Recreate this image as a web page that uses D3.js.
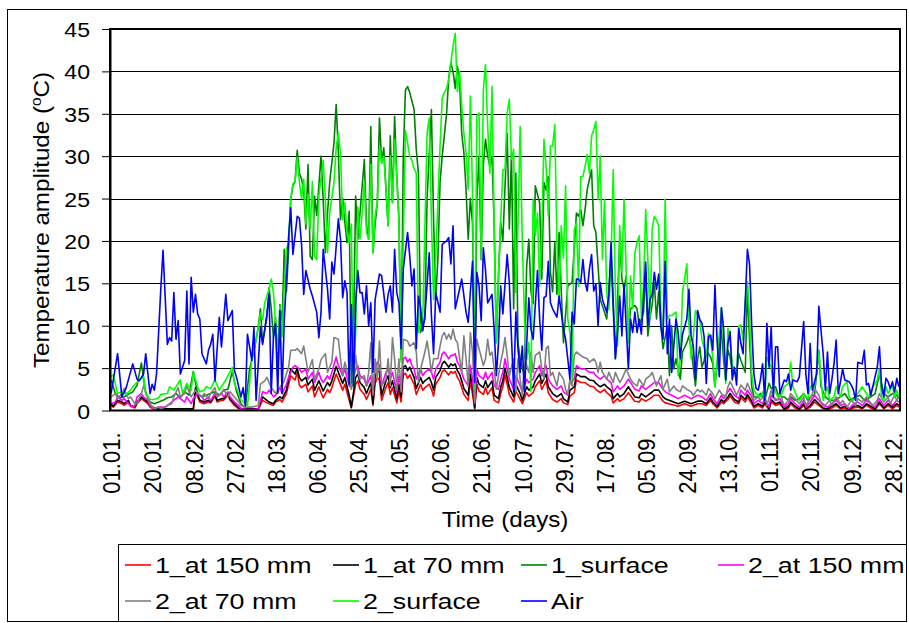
<!DOCTYPE html>
<html>
<head>
<meta charset="utf-8">
<script src="https://cdn.jsdelivr.net/npm/d3@7"></script>
<style>
body { margin: 0; background: #fff; }
text { font-family: "Liberation Sans", Arial, sans-serif; fill: #000; }
</style>
</head>
<body>
<svg id="chart" width="909" height="623"></svg>
<script>
// day-of-year (0 = 01.01.) and amplitude readings, one list of [day, value] per series
var at150_1 = [[0,0.6],[1,0.4],[3,1],[5,0.8],[6,0.6],[8,1],[9,0.5],[11,0.3],[12,0.8],[14,1.4],[15,1.2],[17,0.8],[18,0.4],[20,0.1],[25,0.1],[30,0.1],[35,0.2],[38,0.1],[39,2.2],[41,1],[43,0.8],[45,1],[46,0.9],[48,1.7],[49,1],[51,1.2],[52,1.2],[54,1.8],[55,1.2],[57,0.6],[59,0.2],[61,0.1],[68,0.1],[70,1.2],[72,0.9],[73,0.8],[75,0.6],[76,1],[78,1.3],[79,1],[81,2],[83,4.1],[85,3.6],[86,4.5],[87,3],[88,2.7],[90,3.1],
  [91,2.2],[93,2.9],[94,1.6],[96,2.8],[97,2.1],[98,1.5],[100,2.5],[101,2.1],[102,2.7],[104,4.3],[105,3.7],[107,2.4],[108,3.1],[110,1.2],[111,0.3],[113,3.1],[114,3.5],[115,2.5],[117,1.9],[118,1.3],[120,2.5],[121,0.6],[122,3.2],[123,3.9],[124,3.6],[125,1.2],[127,2.7],[128,3.3],[129,1.9],[130,2.7],[132,0.9],[133,2.3],[134,1],[135,4.2],[136,4.4],[137,3.8],[138,4.2],[139,3.6],[140,3.1],[141,1.9],[143,3.1],[144,2.4],[145,2.7],[147,3.1],[148,2.5],[149,1.7],[150,3.1],[152,3.9],[153,4.6],[154,4.8],[156,4.2],[157,4.6],[158,4.4],[159,4.6],[160,3.9],[161,3.5],[162,2.7],[163,1.9],[165,1.2],[166,3.5],[167,1.9],[168,0.2],[169,3.1],[170,2.3],[172,1.9],[173,2.7],[174,1.9],[176,2.7],[177,1.2],[179,0.9],[180,2],
  [181,2.8],[182,4.2],[183,3.1],[184,1.9],[186,1],[187,2.3],[189,1.3],[190,0.8],[192,2.1],[193,1.7],[195,2.1],[196,2.8],[198,3.5],[199,2.5],[201,3.5],[202,2.1],[204,1.3],[206,1],[208,1.4],[209,0.9],[211,0.7],[212,1.7],[214,2.1],[215,3.6],[217,3.3],[219,3.3],[221,2.9],[223,2.8],[224,2.5],[226,2.1],[228,2.5],[229,2.1],[231,1.7],[232,0.9],[234,1.4],[235,1.1],[237,1.4],[239,2.1],[241,1.4],[242,1.1],[244,1],[245,1.4],[247,1.1],[249,1.4],[251,1.8],[253,1.8],[255,1.1],[256,0.9],[259,0.7],[262,0.5],[265,0.8],[268,0.5],[271,0.8],
  [273,0.8],[275,0.6],[277,1.2],[278,0.8],[280,0.3],[282,1],[283,0.8],[285,1.3],[286,1.7],[288,1],[290,0.8],[291,1.5],[293,1],[294,1.6],[296,0.8],[297,0.3],[299,0.6],[301,0.3],[302,0.8],[304,0.1],[305,1],[307,0.6],[309,0.8],[311,0.1],[313,0.3],[314,0.8],[316,0.3],[318,0.1],[320,0.6],[321,0.1],[323,0.4],[325,1],[327,0.6],[329,0.2],[331,0.1],[333,0.3],[335,0.6],[337,0.2],[339,0.3],[341,0.1],[343,0.3],[345,0.4],[347,0.2],[349,0.6],[351,0.3],[353,0.1],[355,0.8],[357,0.2],[359,0.6],[361,0.2],[363,0.6],[364,0.4]];

var at70_1 = [[0,0.8],[1,0.5],[3,1.2],[5,1],[6,0.8],[8,1.2],[9,0.6],[11,0.4],[12,1],[14,1.6],[15,1.4],[17,1],[18,0.6],[20,0.3],[22,0.2],[25,0.2],[30,0.2],[35,0.2],[38,0.2],[39,2.7],[41,1.2],[43,1],[45,1.2],[46,1],[48,2],[49,1.2],[51,1.4],[52,1.4],[54,2],[55,1.4],[57,0.8],[59,0.3],[61,0.2],[65,0.2],[68,0.2],[70,1.6],[72,1.2],[73,1],[75,0.8],[76,1.2],[78,1.6],[79,1.4],[81,2.4],[83,4.9],[85,4.3],[86,5],[87,3.9],[88,3.5],[90,3.9],
  [91,3],[93,3.7],[94,2.4],[96,3.5],[97,2.9],[98,2.3],[100,3.3],[101,2.9],[102,3.5],[104,5.2],[105,4.5],[107,3.2],[108,3.9],[110,1.8],[111,0.4],[113,3.9],[114,4.3],[115,3.3],[117,2.7],[118,2],[120,3.3],[121,0.8],[122,4],[123,4.7],[124,4.5],[125,1.8],[127,3.5],[128,4.1],[129,2.7],[130,3.5],[132,1.4],[133,3.1],[134,1.6],[135,5.1],[136,5.3],[137,4.7],[138,5.1],[139,4.5],[140,3.9],[141,2.6],[143,3.9],[144,3.2],[145,3.5],[147,3.9],[148,3.3],[149,2.4],[150,3.9],[152,4.7],[153,5.5],[154,5.8],[156,5.1],[157,5.5],[158,5.3],[159,5.5],[160,4.7],[161,4.3],[162,3.5],[163,2.6],[165,1.8],[166,4.3],[167,2.7],[168,0.3],[169,3.9],[170,3.1],[172,2.7],[173,3.5],[174,2.7],[176,3.5],[177,1.8],[179,1.4],[180,2.7],
  [181,3.5],[182,5],[183,3.9],[184,2.7],[186,1.6],[187,3.1],[189,2],[190,1.2],[192,2.8],[193,2.4],[195,2.8],[196,3.5],[198,4.3],[199,3.2],[201,4.3],[202,2.8],[204,2],[206,1.6],[208,2],[209,1.4],[211,1],[212,2.4],[214,2.8],[215,4.3],[217,4],[219,4],[221,3.6],[223,3.5],[224,3.2],[226,2.8],[228,3.1],[229,2.8],[231,2.4],[232,1.4],[234,2],[235,1.6],[237,2],[239,2.8],[241,2],[242,1.6],[244,1.5],[245,2],[247,1.6],[249,2],[251,2.4],[253,2.4],[255,1.6],[256,1.4],[259,1.1],[262,0.8],[265,1.1],[268,0.8],[271,1.1],
  [273,1.1],[275,0.8],[277,1.5],[278,1],[280,0.5],[282,1.3],[283,1],[285,1.6],[286,2],[288,1.3],[290,1],[291,1.8],[293,1.3],[294,1.9],[296,1.1],[297,0.5],[299,0.8],[301,0.5],[302,1],[304,0.2],[305,1.3],[307,0.8],[309,1],[311,0.2],[313,0.5],[314,1],[316,0.5],[318,0.2],[320,0.8],[321,0.2],[323,0.6],[325,1.3],[327,0.8],[329,0.3],[331,0.2],[333,0.5],[335,0.8],[337,0.3],[339,0.5],[341,0.1],[343,0.5],[345,0.6],[347,0.3],[349,0.8],[351,0.5],[353,0.2],[355,1],[357,0.3],[359,0.8],[361,0.4],[363,0.8],[364,0.6]];

var surface_1 = [[0,3.6],[2,2],[4,1.5],[6,1.6],[8,1.9],[10,2.2],[12,3],[14,5.6],[16,2],[18,1],[20,0.8],[22,1],[24,1.2],[26,1.5],[28,1.6],[30,2],[32,1.5],[34,2.2],[36,1.8],[38,4.6],[40,2],[42,1.6],[44,1.8],[46,2],[48,2.2],[50,1.8],[52,2.4],[54,2.5],[56,4.6],[58,2.2],[60,0.8],[62,0.3],[64,4.9],[66,7],[68,9.8],[69,12],[70,8],[72,11],[73,14.5],[74,12],[75,8.6],[76,11],[77,4],[78,12.5],[79,10],[80,19],[81,14],[82,18.8],[83,24.9],[84,26.5],[85,27],[86,30.7],[87,28],
  [88,27.3],[89,26.1],[90,21.4],[91,29],[92,18.2],[93,17.8],[94,25.3],[95,23],[97,30],[98,24.9],[99,18.6],[100,23.3],[101,26.9],[103,31.6],[104,36.1],[105,30.4],[106,22.5],[107,25],[108,22.2],[109,19.8],[110,23.5],[111,3.2],[112,9],[113,25.3],[114,20.2],[115,23.3],[117,29.6],[118,22],[119,20.2],[120,33.5],[121,18.6],[122,22],[123,24.5],[124,34.5],[125,29.2],[126,31],[127,26.1],[128,21.8],[129,32.4],[130,24.5],[131,34.7],[132,27.6],[133,22.5],[134,6],[135,30],[136,37.8],[137,38.2],[138,37.5],[139,36.5],[140,35.5],[141,30.8],[142,28],[143,9.2],[145,10.8],[146,25],[148,35.5],[149,22.5],[150,13.1],[151,18],[152,27],[153,30],[155,35],[156,39.2],[157,41],[158,40],[159,38],[160,40.6],[161,39],[162,32.7],[163,30.4],[164,26.1],[165,20.2],[166,25],[167,22],[168,2.5],[169,25],[170,30],[171,17.8],[172,29],[173,32],[174,30],[175,28.8],[176,30],[177,21.8],[178,8],[179,15.9],
  [180,22.2],[181,20],[183,32.7],[184,21.4],[185,30.4],[186,12],[187,28],[188,8],[189,6.1],[190,5],[191,4.1],[192,17],[193,20.2],[194,14],[195,12.6],[196,26.5],[198,24.5],[199,15.5],[200,26.9],[201,26],[202,27.6],[203,16.3],[204,14],[205,19.8],[206,13.7],[207,21],[208,14],[209,8],[211,14.7],[213,15.1],[215,23.3],[216,22.9],[217,23.7],[218,21.8],[219,23.7],[220,26.1],[222,28.4],[223,21.8],[224,21],[225,17],[226,13.1],[228,11.6],[229,10.8],[231,17.8],[232,12],[233,6.1],[235,20.2],[236,15.5],[237,14.3],[238,15.9],[239,8.8],[240,12],[242,12.4],[243,12],[244,10],[246,11.6],[247,16.3],[248,8.8],[249,11],[250,12.5],[251,15.1],[252,10.8],[253,14],[254,10],[255,7.3],[257,10],[258,4.1],[259,10],[260,4.9],[261,6.1],[263,3.7],[264,6.9],[266,8],[267,8.8],[268,7.3],[270,2.9],[271,6.1],
  [272,7.5],[273,5.1],[274,5.9],[275,7.1],[277,6.3],[278,5.5],[279,2.8],[280,5.5],[282,9.5],[283,5.9],[284,3.6],[285,7.1],[286,6.3],[287,4.7],[289,4.3],[290,6.7],[291,5.9],[293,4.5],[294,14.6],[295,8.3],[296,2.8],[297,1.6],[299,1.6],[300,2],[302,1.2],[304,3.2],[305,2.6],[307,2.8],[308,2],[310,1.6],[311,1.6],[313,1.2],[314,1.6],[316,1.2],[318,1.4],[320,2],[322,1.2],[324,1.8],[325,1.8],[327,7.1],[328,2.8],[330,1.6],[332,1.2],[334,1.2],[337,1.6],[339,2],[341,1.2],[344,1.6],[346,1.8],[348,1.2],[351,1.6],[353,2],[355,4.3],[357,2],[359,1.6],[361,2],[363,1.8],[364,1.4]];

var at150_2 = [[0,0.8],[2,1],[3,1.6],[5,1.2],[6,1.4],[8,0.8],[10,0.4],[11,0.6],[12,1.6],[14,2],[15,1.6],[17,1.2],[18,0.6],[20,0.2],[22,0.4],[25,0.4],[28,1],[29,1.2],[31,1.6],[32,1.4],[34,1],[35,1.6],[37,0.8],[38,1.4],[40,2],[42,1.6],[43,1.2],[45,1.6],[46,1.2],[48,2],[49,1.6],[51,2],[52,1.6],[54,2.2],[55,1.6],[57,1],[59,0.6],[60,0.2],[63,0.1],[66,0.1],[68,0.2],[70,2.2],[72,2],[73,2.4],[75,1.6],[76,1.8],[78,2.7],[79,2],[81,3.1],[82,3.9],[84,5.1],[85,5.3],[87,4.9],[88,4.5],[90,4.9],
  [91,3.7],[93,4.5],[94,3.3],[96,4.5],[97,3.7],[98,3.3],[100,4.1],[101,3.7],[102,4.5],[104,6.3],[105,5.3],[107,4.1],[108,4.9],[110,2.9],[111,2.7],[113,4.9],[114,5.3],[115,4.1],[117,3.7],[118,2.9],[120,4.1],[121,2.2],[122,4.9],[123,5.7],[124,5.3],[125,2.9],[127,4.5],[128,4.9],[129,3.7],[130,4.5],[132,2.2],[133,4.1],[134,2.5],[135,6.1],[136,6.3],[137,5.7],[138,6.1],[139,5.3],[140,4.9],[141,3.7],[143,4.9],[144,4.1],[145,4.5],[147,4.9],[148,4.5],[149,3.7],[150,4.9],[152,5.7],[153,6.7],[154,6.9],[156,6.1],[157,6.5],[158,6.5],[159,6.7],[160,5.7],[161,5.3],[162,4.5],[163,3.7],[165,2.9],[166,5.3],[167,3.7],[168,0.8],[169,4.9],[170,4.1],[172,3.7],[173,4.5],[174,3.7],[176,4.5],[177,2.9],[179,2.5],[180,3.7],
  [181,4.5],[182,6.1],[183,4.9],[184,3.7],[186,2.5],[187,4.1],[189,2.9],[190,2.2],[192,3.7],[193,3.3],[195,3.7],[196,4.5],[198,5.3],[199,4.1],[201,5.3],[202,3.7],[204,2.9],[206,2.5],[208,2.9],[209,2.2],[211,1.8],[212,3.3],[214,3.7],[215,5.3],[217,4.9],[219,4.9],[221,4.5],[223,4.5],[224,4.1],[226,3.7],[228,4.1],[229,3.7],[231,3.3],[232,2.2],[234,2.9],[235,2.5],[237,2.9],[239,3.7],[241,2.9],[242,2.5],[244,2.3],[245,2.9],[247,2.5],[249,2.9],[251,3.3],[253,3.3],[255,2.5],[256,2.2],[259,1.8],[262,1.4],[265,1.8],[268,1.4],[271,1.8],
  [273,1.6],[275,1.2],[277,2],[278,1.4],[280,0.8],[282,1.8],[283,1.4],[285,2.2],[286,2.6],[288,1.8],[290,1.4],[291,2.4],[293,1.8],[294,2.4],[296,1.6],[297,0.8],[299,1.2],[301,0.8],[302,1.4],[304,0.4],[305,1.8],[307,1.2],[309,1.4],[311,0.4],[313,0.8],[314,1.4],[316,0.8],[318,0.4],[320,1.2],[321,0.4],[323,1],[325,1.8],[327,1.2],[329,0.6],[331,0.4],[333,0.8],[335,1.2],[337,0.6],[339,0.8],[341,0.2],[343,0.8],[345,1],[347,0.6],[349,1.2],[351,0.8],[353,0.4],[355,1.4],[357,0.6],[359,1.2],[361,0.6],[363,1.2],[364,1]];

var at70_2 = [[0,1.6],[2,2],[3,1.4],[5,2],[6,2.6],[8,1.4],[9,1.6],[11,0.8],[12,0.8],[14,2],[15,2.9],[17,1.6],[18,0.8],[20,0.2],[22,0.4],[23,0.2],[25,0.4],[26,0.6],[28,0.8],[29,1.6],[31,2.7],[32,1.6],[34,2],[35,2.9],[37,1.6],[39,2.4],[40,2],[42,1.6],[43,2],[45,1.4],[46,2],[48,2.7],[49,1.6],[51,2],[52,2.5],[54,1.6],[55,2.2],[57,1.6],[59,1],[60,0.6],[62,0.4],[65,0.4],[68,0.6],[69,3.1],[71,3.5],[72,3.9],[74,2.7],[76,2],[77,2.4],[79,3.1],[80,3.5],[82,5.1],[83,7.1],[85,7.1],[86,7.3],[88,6.7],
  [89,7.6],[90,6.1],[91,4.5],[93,6],[94,3.7],[96,4.9],[97,6],[99,6.7],[100,4.5],[102,5.7],[103,8.6],[105,8.4],[106,6.1],[107,4.1],[108,5.7],[110,3.7],[111,2.5],[112,3.7],[113,6.5],[114,4.5],[115,3.7],[117,4.1],[118,2.9],[119,4.5],[120,8],[121,1.8],[122,6.1],[123,3.7],[124,8.2],[125,2.9],[127,3.7],[128,6.1],[129,2.9],[130,8.6],[131,6.1],[132,2.5],[133,6.1],[134,2.2],[135,8.4],[137,8.2],[138,7.6],[140,8],[141,6.9],[142,3.3],[143,4.9],[145,6.9],[146,8.2],[147,6.5],[148,4.5],[149,6.1],[151,6.1],[152,7.6],[153,8.8],[154,9.2],[155,8.4],[156,9],[157,8.4],[158,9.6],[159,8.4],[160,8],[162,4.5],[163,8.8],[164,6.1],[165,2.9],[166,9.2],[167,6.9],[168,1],[169,8.4],[170,7.3],[172,5.3],[173,6.1],[174,8.4],[175,6.5],[176,6.9],[177,4.9],[178,2.5],
  [180,5.7],[181,6.9],[182,8.6],[183,6.5],[184,4.1],[186,6.1],[187,2.2],[188,6.1],[189,3.7],[190,1.8],[191,6.1],[193,4.5],[194,6.9],[195,4.5],[196,6.5],[198,6.9],[199,4.9],[200,3.7],[201,7.3],[202,7.6],[203,4.1],[204,4.5],[206,2.9],[207,4.5],[209,3.7],[210,2.5],[211,1.8],[212,3.7],[213,2.9],[214,6.5],[215,6.9],[217,6.5],[218,6.3],[220,6.1],[221,5.7],[223,6.1],[224,5.7],[225,4.5],[226,5.7],[227,4.5],[229,3.7],[230,4.5],[232,3.3],[233,4.5],[235,3.3],[236,3.7],[238,4.9],[240,3.7],[241,3.3],[243,2.9],[244,3.7],[246,2.9],[247,3.7],[249,4.1],[250,4.5],[252,2.9],[254,4.1],[255,2.5],[257,3.7],[258,2.2],[260,2.9],[261,2.5],[263,2.2],[264,2.9],[266,2.5],[268,2.2],[269,1.8],[271,2.5],[272,2.2],
  [273,2.4],[275,1.8],[276,2.6],[278,2],[279,1.4],[281,2.4],[282,2],[284,1.6],[285,2.8],[286,3.4],[288,2.4],[289,1.8],[291,3],[293,2.4],[294,3.2],[296,2],[297,1.2],[299,1.6],[300,1.2],[302,1.8],[303,0.6],[305,2.4],[306,1.6],[308,1.2],[309,2],[311,0.6],[313,1.2],[314,2],[316,1.4],[318,0.8],[320,1.6],[321,0.6],[323,1.4],[325,2.6],[327,1.8],[328,1],[330,0.6],[332,1.2],[333,0.6],[335,1.6],[337,0.8],[338,1.2],[340,0.4],[342,1.2],[344,0.6],[345,1.4],[347,1],[349,1.6],[350,1.2],[352,0.6],[354,1.2],[355,2],[357,1],[359,1.6],[360,0.8],[362,1.8],[363,1.2],[364,1.6]];

var surface_2 = [[0,4],[1,4.2],[3,2],[5,2.2],[7,1.9],[9,2.4],[10,2.8],[13,3.6],[15,4],[16,2],[18,1.3],[20,1.3],[22,1.5],[23,1.9],[26,2],[27,2.8],[29,2.4],[32,3.6],[33,2],[35,3.2],[37,2.4],[38,4.5],[40,2.8],[41,2.2],[43,2.4],[44,2.8],[46,2.6],[48,3.6],[50,2.4],[51,2.8],[53,3.6],[56,5.1],[57,3.2],[59,2],[60,1.3],[63,0.5],[65,6],[67,8.3],[69,11.5],[70,10.7],[71,12.7],[73,14.3],[74,15.5],[75,13.9],[76,10.3],[77,7],[78,12.3],[79,8.7],[80,14.6],[81,19],[82,19.8],[83,24.9],[84,26.7],[85,27],[86,29.8],[87,27],[88,25],[89,27.3],[90,22],
  [91,25.5],[92,21.4],[93,27],[94,18.2],[95,17.8],[96,25.3],[98,29.5],[99,24.9],[100,18.6],[101,23.3],[103,26.9],[104,31],[105,32.7],[106,30.4],[107,22.5],[108,24.5],[109,21],[110,19.8],[111,22],[112,2.9],[113,9.2],[114,24],[115,20.2],[116,23.3],[117,27],[118,21],[119,20.2],[120,29],[121,18.6],[122,23],[123,24.5],[124,31],[125,29.2],[126,30],[127,26.1],[128,21.8],[129,30],[130,24.5],[131,32],[132,27.6],[133,22.5],[134,5.7],[135,20],[136,33],[137,31.5],[138,30],[139,29.5],[140,28.5],[141,28],[142,9.2],[144,10.8],[146,32.7],[147,34.5],[148,22.5],[149,13.1],[150,18],[152,31.2],[153,36.9],[154,37.5],[155,38],[156,39],[157,41],[158,43],[159,44.5],[160,37.6],[161,40],[162,36],[163,32.7],[164,30.4],[165,26.1],[166,37.1],[167,25.7],[168,2.5],[169,34.7],[170,35.1],[171,17.8],[172,37.8],[173,40.8],[174,33.5],[175,28],[176,38.2],[177,21.8],[178,8],[179,15.9],
  [181,28.4],[182,28.4],[183,35.1],[184,36.7],[185,29.6],[186,30.8],[187,13.9],[188,22],[189,33.5],[190,20],[191,10.8],[192,6],[193,8],[194,2.2],[195,24.9],[196,20.6],[197,23.3],[198,14.7],[199,21],[200,32],[201,28.8],[202,23],[203,31.2],[204,31.2],[205,33.7],[206,19.8],[207,13.1],[208,21.8],[209,18],[210,26.5],[211,10.8],[212,9.2],[213,3.7],[214,21.2],[215,22.2],[216,14.7],[217,27.6],[218,27.6],[219,28.8],[220,30.2],[221,28],[222,32.4],[223,33.1],[224,34.1],[225,24.9],[226,30],[227,17.8],[228,24.9],[229,13.9],[230,11.9],[231,17.8],[232,28.4],[233,13.9],[234,7.6],[235,21.8],[236,16.3],[237,24.9],[239,8],[240,15.9],[241,12],[242,18.6],[243,19.8],[244,20.6],[245,11],[246,14.7],[247,23.7],[248,17.8],[249,11],[250,21.4],[251,22.9],[252,22.5],[253,21.8],[254,11.6],[255,9.2],[256,24.9],[257,10.8],[258,11.2],[259,11.2],[260,11.4],[261,11.6],[262,4.1],[263,6.1],[264,13.9],[266,17.3],[267,10],[268,6.1],[269,8.8],[270,11.8],
  [272,10.7],[273,8.3],[274,7.5],[275,6.3],[276,9.1],[277,8.3],[278,6.3],[279,2.8],[280,5.9],[282,12.1],[283,8.3],[284,3.2],[285,9.7],[286,8.3],[287,5.5],[289,3.6],[290,9.9],[291,10.1],[292,8.3],[293,13],[294,15.2],[295,11.1],[296,4.3],[297,2.4],[298,2],[300,1.6],[301,2.2],[302,1.2],[303,6.3],[305,5.1],[306,2.8],[307,2.2],[308,1.6],[310,2],[311,2.8],[313,3.2],[314,5.7],[315,2.8],[317,1.6],[318,1.2],[320,2],[321,1.6],[322,1.4],[323,2.8],[324,3],[325,2.8],[327,7.1],[328,3.6],[329,1.2],[331,2.8],[332,1.2],[334,1.6],[335,2.8],[337,1.6],[338,2.8],[340,3.4],[341,1.6],[343,1.2],[344,1.6],[346,2.4],[347,2.8],[349,2],[350,1.6],[352,2.8],[354,3.6],[355,4.9],[356,1.6],[357,1.2],[358,2.8],[359,2],[361,3],[362,1.6],[363,2.4],[364,1.6]];

var air = [[0,2],[3,6.7],[5,1.6],[7,2.7],[10,5.5],[12,3.7],[13,3.5],[15,4.3],[16,6.7],[18,2],[19,3.1],[20,2.4],[21,4.3],[23,14.5],[24,18.9],[26,7.8],[27,8.6],[28,8.2],[29,13.9],[30,8.4],[31,10.6],[32,4.3],[34,5.9],[35,14.1],[36,5.5],[37,15.7],[38,11.6],[39,13.7],[40,11.4],[41,10.8],[42,6.7],[44,5.5],[45,7.1],[46,7.8],[47,9],[48,3.5],[50,11],[51,7.5],[53,13.7],[54,10.6],[56,11.8],[57,4.7],[58,3.9],[60,1.6],[61,2.7],[62,0.6],[63,9],[64,7.5],[65,5.9],[66,9.8],[67,1.2],[69,9.8],[70,7.8],[72,11.4],[73,13.7],[74,2],[75,8.6],[76,10.2],[77,2],[78,11.8],[79,2],[80,10.6],[81,15.3],[82,20.4],[83,23.9],[84,18.4],[86,22.9],[87,22.7],[88,19.6],
  [89,13.7],[90,16.5],[92,14.3],[93,13.5],[95,11.6],[96,8.6],[97,11.6],[98,19],[100,14.3],[101,10.8],[102,17.5],[103,16.1],[105,22.6],[106,20.2],[107,13.3],[108,15.3],[109,14],[110,3.1],[111,12.5],[112,2.9],[113,12.7],[114,16.5],[115,13.9],[116,13.9],[117,11.4],[118,14.7],[119,10],[120,12.7],[121,4.5],[122,13.1],[124,16.1],[125,15.9],[127,11.6],[128,13.7],[129,14.7],[130,11.6],[131,19],[132,13.9],[133,12.7],[134,7.3],[135,16.7],[137,21],[138,18.2],[139,14.7],[140,16.7],[141,7.3],[142,13.5],[143,12.2],[144,9.4],[145,11.2],[147,18.6],[148,11.2],[149,6.7],[150,13.9],[152,11.6],[153,19.6],[155,20],[156,20.4],[157,17.3],[158,21.8],[159,12],[161,14.3],[162,15.5],[164,11.6],[165,10.4],[167,17.6],[168,3.3],[169,16.3],[170,14.7],[171,10.6],[172,19.2],[173,16.5],[174,12.7],[176,13.7],[177,9.4],[178,4.1],[179,8],
  [180,14.7],[181,11.4],[183,18.4],[184,15.1],[186,2.2],[187,11.6],[188,7.3],[189,4.5],[190,7.6],[191,2.2],[193,13.3],[194,9.6],[195,8.4],[197,16.5],[198,10.8],[199,7.1],[200,13.3],[201,13.5],[202,17.6],[203,12.7],[204,12],[206,11],[207,13.5],[209,9.6],[210,8.4],[211,6.1],[212,3.7],[213,11.6],[214,10.2],[215,15.5],[216,15.5],[217,15.1],[218,17.8],[219,15.1],[220,14.1],[221,16.7],[222,18.4],[223,14.1],[224,14.9],[225,10],[226,15.1],[227,13.1],[229,11.6],[230,13.7],[231,19.8],[233,6.1],[234,9.2],[235,13.5],[236,8.8],[237,14.9],[239,4.9],[240,10.8],[241,9.2],[242,11.6],[243,9.2],[244,10.8],[245,9],[247,17.5],[248,10],[249,13.1],[250,13.7],[251,16.3],[252,14.3],[253,16.1],[254,10],[255,8.4],[256,17.6],[257,6.7],[258,10.8],[259,4.5],[261,10.8],[262,9.2],[263,6.1],[264,9],[266,10.8],[267,14.3],[268,8.8],[269,7.6],[270,3.7],[271,11.8],
  [272,10.7],[273,10.3],[274,8.7],[275,3.2],[276,8.7],[277,8.9],[278,7.1],[279,14.8],[280,8.3],[281,4],[282,12.1],[283,9.7],[284,3.6],[285,7.9],[286,9.3],[287,3.6],[288,5.1],[289,3],[290,9.7],[291,7.9],[292,6.7],[294,19],[295,17.2],[296,9.9],[297,4.3],[298,2.6],[299,2.4],[300,3.6],[301,5.5],[302,1.2],[303,10.3],[304,5.1],[305,9.9],[306,1.6],[307,7.5],[308,7.5],[309,2],[311,3.6],[312,3.4],[313,4.3],[314,2.4],[315,3.6],[317,3.4],[318,4],[320,10.5],[321,4.3],[322,2],[323,7.9],[324,2.4],[326,4.3],[327,12.3],[328,9.5],[329,6.7],[330,2.4],[331,6.9],[332,2],[333,3.6],[334,5.5],[335,8.3],[336,2],[337,3.4],[338,4.9],[339,3.6],[341,3.4],[342,3],[343,2.4],[344,1.2],[345,5.7],[347,5.5],[348,7.1],[349,3],[350,3.2],[351,1.8],[353,4],[354,5.1],[355,7.5],[356,2.8],[357,1.6],[358,3.8],[359,3.4],[360,2.6],[361,3.4],[362,2.2],[363,3.8],[364,2.8]];

var seriesNames = ['1_at 150 mm', '1_at 70 mm', '1_surface', '2_at 150 mm', '2_at 70 mm', '2_surface', 'Air'];
var seriesColors = ['#ff0000', '#000000', '#008000', '#ff00ff', '#808080', '#00ff00', '#0000ff'];
var seriesData = [at150_1, at70_1, surface_1, at150_2, at70_2, surface_2, air];

var tickDays = [0, 19, 38, 57, 76, 95, 114, 133, 152, 171, 190, 209, 228, 247, 266, 285, 304, 323, 342, 361];
var tickLabels = ['01.01.', '20.01.', '08.02.', '27.02.', '18.03.', '06.04.', '25.04.', '14.05.', '02.06.', '21.06.',
                  '10.07.', '29.07.', '17.08.', '05.09.', '24.09.', '13.10.', '01.11.', '20.11.', '09.12.', '28.12.'];
var yTicks = [0, 5, 10, 15, 20, 25, 30, 35, 40, 45];

var SX = 1.1; // excel text looks a bit wider than arial
var LSX = 1.22; // legend text is wider still

var svg = d3.select('#chart');

svg.append('rect')
    .attr('x', 0).attr('y', 0)
    .attr('width', 909).attr('height', 623)
    .attr('fill', '#fff');

// outer chart border
svg.append('rect')
    .attr('x', 7.5).attr('y', 9.5)
    .attr('width', 899).attr('height', 612)
    .attr('fill', 'none')
    .attr('stroke', '#000')
    .attr('stroke-width', 1);

var x = d3.scaleLinear().domain([0, 365]).range([110, 900]);
var y = d3.scaleLinear().domain([0, 45]).range([410.5, 29]);

// gridlines
svg.append('g')
    .selectAll('line')
    .data(yTicks.filter(function(d) { return d > 0 && d < 45; }))
    .enter()
    .append('line')
    .attr('x1', 110).attr('x2', 900)
    .attr('y1', function(d) { return Math.round(y(d)) + 0.5; })
    .attr('y2', function(d) { return Math.round(y(d)) + 0.5; })
    .attr('stroke', '#000')
    .attr('stroke-width', 1);

// series, drawn in legend order so Air ends on top
var line = d3.line()
    .x(function(d) { return x(d[0] + 0.5); })
    .y(function(d) { return y(d[1]); });

svg.append('g')
    .selectAll('path')
    .data(seriesData)
    .enter()
    .append('path')
    .attr('d', line)
    .attr('fill', 'none')
    .attr('stroke', function(d, i) { return seriesColors[i]; })
    .attr('stroke-width', 1.6)
    .attr('stroke-linejoin', 'round');

// plot frame
svg.append('rect')
    .attr('x', 110).attr('y', 29)
    .attr('width', 790).attr('height', 381.5)
    .attr('fill', 'none')
    .attr('stroke', '#000')
    .attr('stroke-width', 2);

// y axis
var yAxis = svg.append('g')
    .attr('transform', 'translate(110,0)')
    .call(d3.axisLeft(y).tickValues(yTicks).tickSize(8).tickSizeOuter(0));
yAxis.select('.domain').attr('stroke', '#000').attr('stroke-width', 2);
yAxis.selectAll('.tick line').attr('stroke', '#000');
yAxis.selectAll('text')
    .attr('x', -20 / SX)
    .attr('dy', '0.36em')
    .attr('transform', 'scale(' + SX + ',1)')
    .style('font-size', '21px')
    .style('font-family', '"Liberation Sans", Arial, sans-serif');

// x axis, labels every 19 days
var xAxis = svg.append('g')
    .attr('transform', 'translate(0,410.5)')
    .call(d3.axisBottom(x)
        .tickValues(tickDays.map(function(d) { return d + 0.5; }))
        .tickFormat(function(d, i) { return tickLabels[i]; })
        .tickSize(0));
xAxis.select('.domain').remove();
xAxis.selectAll('text')
    .attr('text-anchor', 'end')
    .attr('x', -22)
    .attr('y', 0)
    .attr('dy', '0.36em')
    .attr('transform', 'rotate(-90) scale(1,' + SX + ')')
    .style('font-size', '22px')
    .style('font-family', '"Liberation Sans", Arial, sans-serif');

// axis titles
var yTitle = svg.append('text')
    .attr('transform', 'translate(49,220) rotate(-90) scale(' + SX + ',1)')
    .attr('text-anchor', 'middle')
    .style('font-size', '22px');
yTitle.append('tspan').text('Temperature amplitude (');
yTitle.append('tspan').text('o').attr('dy', -8).style('font-size', '14px');
yTitle.append('tspan').text('C)').attr('dy', 8);

svg.append('text')
    .attr('transform', 'translate(505,527) scale(' + SX + ',1)')
    .attr('text-anchor', 'middle')
    .style('font-size', '22px')
    .text('Time (days)');

// legend
var legendCols = [125, 333, 521, 718];
var legendRows = [565, 601];

svg.append('rect')
    .attr('x', 118.5).attr('y', 544.5)
    .attr('width', 788).attr('height', 77)
    .attr('fill', '#fff')
    .attr('stroke', '#000')
    .attr('stroke-width', 1);

var legend = svg.append('g')
    .selectAll('g')
    .data(seriesNames)
    .enter()
    .append('g')
    .attr('transform', function(d, i) {
        return 'translate(' + legendCols[i % 4] + ',' + legendRows[Math.floor(i / 4)] + ')';
    });

legend.append('line')
    .attr('x1', 0).attr('x2', 26)
    .attr('y1', 0).attr('y2', 0)
    .attr('stroke', function(d, i) { return seriesColors[i]; })
    .attr('stroke-width', 1.6);

legend.append('text')
    .attr('transform', 'translate(30,7.5) scale(' + LSX + ',1)')
    .style('font-size', '22px')
    .text(function(d) { return d; });
</script>
</body>
</html>
